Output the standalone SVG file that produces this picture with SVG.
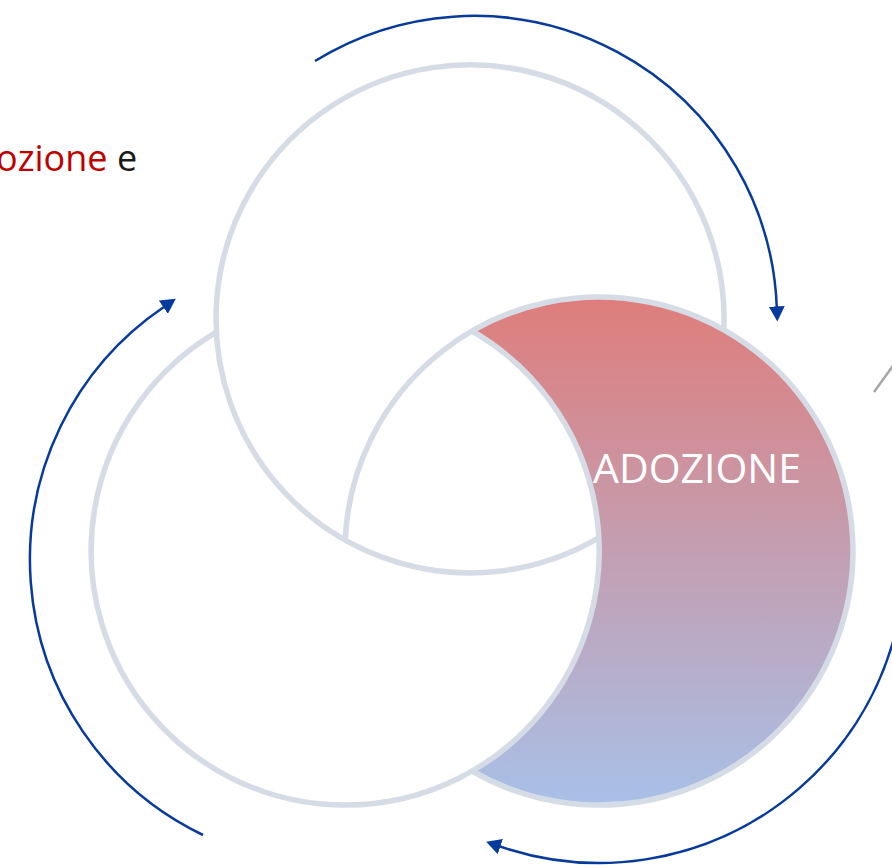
<svg xmlns="http://www.w3.org/2000/svg" width="892" height="865" viewBox="0 0 892 865">
<style>
.ring{fill:none;stroke:#d6dce5;stroke-width:5.5}
.arrow{fill:none;stroke:#063a9c;stroke-width:2.5}
.label{font-family:"Open Sans","Liberation Sans",sans-serif}
</style>
<defs>
<linearGradient id="grad" x1="0" y1="0" x2="0" y2="1">
<stop offset="0" stop-color="#df7d7b"/>
<stop offset="1" stop-color="#a8c0e8"/>
</linearGradient>
<marker id="head" markerUnits="userSpaceOnUse" markerWidth="16" markerHeight="16" refX="1" refY="8" orient="auto">
<path d="M0,0 L15,8 L0,16 Z" fill="#063a9c"/>
</marker>
</defs>
<rect width="892" height="865" fill="#ffffff"/>
<text class="label" x="-4" y="171" font-size="36" fill="#1a1a1a"><tspan fill="#c00000">ozione</tspan> e</text>
<line x1="874" y1="392" x2="895" y2="363" stroke="#a6a6a6" stroke-width="2.5"/>
<g id="ring-right">
<path d="M472,331 A254,254 0 1 1 472,771 A254,254 0 0 0 472,331 Z" fill="url(#grad)"/>
<path class="ring" d="M345.2,540.3 A254,254 0 1 1 472,771"/>
<text class="label" x="593" y="483" font-size="41" fill="#ffffff">ADOZIONE</text>
</g>
<g id="ring-top">
<path class="ring" d="M598.6,537.9 A254,254 0 1 1 723.8,329.7"/>
</g>
<g id="ring-left">
<path class="ring" d="M472,331 A254,254 0 1 1 216.4,332.1"/>
</g>
<g id="connectors">
<path class="arrow" d="M315,61 A303,303 0 0 1 776.8,307.4" marker-end="url(#head)"/>
<path class="arrow" d="M899.4,498.6 A306,306 0 0 1 499.4,846.3" marker-end="url(#head)"/>
<path class="arrow" d="M203,835 A305.5,305.5 0 0 1 164.2,306.7" marker-end="url(#head)"/>
</g>
</svg>
